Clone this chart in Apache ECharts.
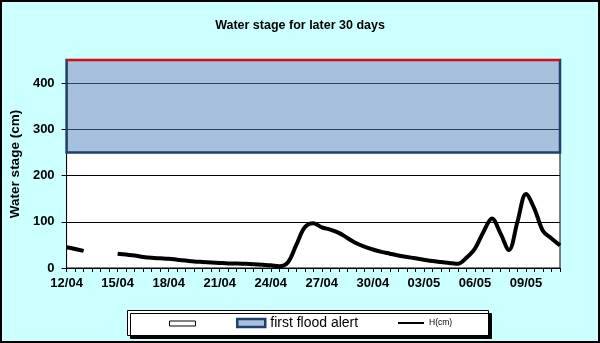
<!DOCTYPE html>
<html>
<head>
<meta charset="utf-8">
<script src="https://cdn.jsdelivr.net/npm/echarts@6/dist/echarts.min.js"></script>
<style>
html,body{margin:0;padding:0;background:#CCFFFF;}
#chart{width:600px;height:343px;}
</style>
</head>
<body>
<div id="chart"></div>
<script>
// Categories: half-day steps, 12/04 00h .. 11/05 00h
var categories = [
 '12/04 00h','12/04 12h','13/04 00h','13/04 12h','14/04 00h','14/04 12h',
 '15/04 00h','15/04 12h','16/04 00h','16/04 12h','17/04 00h','17/04 12h',
 '18/04 00h','18/04 12h','19/04 00h','19/04 12h','20/04 00h','20/04 12h',
 '21/04 00h','21/04 12h','22/04 00h','22/04 12h','23/04 00h','23/04 12h',
 '24/04 00h','24/04 12h','25/04 00h','25/04 12h','26/04 00h','26/04 12h',
 '27/04 00h','27/04 12h','28/04 00h','28/04 12h','29/04 00h','29/04 12h',
 '30/04 00h','30/04 12h','01/05 00h','01/05 12h','02/05 00h','02/05 12h',
 '03/05 00h','03/05 12h','04/05 00h','04/05 12h','05/05 00h','05/05 12h',
 '06/05 00h','06/05 12h','07/05 00h','07/05 12h','08/05 00h','08/05 12h',
 '09/05 00h','09/05 12h','10/05 00h','10/05 12h','11/05 00h'
];
// Water stage H (cm)
var waterStage = [
 45, 41, 37, null, null, null,
 31, 29, 27, 24, 22, 21,
 20, 18, 16, 14, 13, 12,
 11, 10, 10, 9, 8, 7,
 6, 4, 12, 50, 88, 97,
 88, 83, 76, 65, 54, 46,
 40, 35, 31, 27, 24, 21,
 18, 15, 13, 11, 9, 22,
 42, 78, 107, 75, 39, 100,
 160, 128, 80, 64, 49
];
// First flood alert band (cm)
var alertLow = 250;
var alertHigh = 450;
var yTicks = [0, 100, 200, 300, 400];
var seriesNames = [' ', 'first flood alert', 'H(cm)'];

var FONT = 'Liberation Sans, Arial, sans-serif';
var chart = echarts.init(document.getElementById('chart'), null, {renderer: 'canvas'});
chart.setOption({
  backgroundColor: '#CCFFFF',
  animation: false,
  title: {
    text: 'Water stage for later 30 days',
    left: 'center', top: 14,
    textStyle: {fontFamily: FONT, fontSize: 12.5, fontWeight: 'bold', color: '#000'}
  },
  grid: {
    left: 65, right: 40, top: 60, bottom: 75,
    show: true, backgroundColor: '#fff', borderColor: '#000', borderWidth: 1
  },
  xAxis: {
    type: 'category',
    data: categories,
    boundaryGap: false,
    axisLine: {lineStyle: {color: '#000', width: 1}},
    axisTick: {show: true, interval: 0, length: 4, lineStyle: {color: '#000'}},
    axisLabel: {
      interval: 5, margin: 9, color: '#000',
      fontFamily: FONT, fontSize: 13, fontWeight: 'bold',
      formatter: function (v) { return v.slice(0, 5); }
    },
    splitLine: {show: false}
  },
  yAxis: {
    type: 'value',
    min: 0, max: alertHigh, interval: 100,
    name: 'Water stage (cm)',
    nameLocation: 'middle', nameGap: 42,
    nameTextStyle: {fontFamily: FONT, fontSize: 13.5, fontWeight: 'bold', color: '#000'},
    axisLine: {show: true, lineStyle: {color: '#000', width: 1}},
    axisTick: {show: true, length: 5, lineStyle: {color: '#000'}, customValues: yTicks},
    axisLabel: {
      margin: 12, color: '#000', fontFamily: FONT, fontSize: 13, fontWeight: 'bold',
      customValues: yTicks
    },
    splitLine: {show: true, lineStyle: {color: '#000', width: 1}}
  },
  legend: [
    {
      data: [seriesNames[0]], left: 169, top: 320.5, padding: 0,
      icon: 'rect', itemWidth: 26, itemHeight: 5,
      itemStyle: {color: '#fff', borderColor: '#000', borderWidth: 1},
      textStyle: {fontSize: 4}, selectedMode: false
    },
    {
      data: [seriesNames[1]], left: 236, top: 315, padding: 0,
      icon: 'rect', itemWidth: 28, itemHeight: 8,
      itemStyle: {color: '#A7C0DE', borderColor: '#1F3F6F', borderWidth: 2.5},
      textStyle: {fontFamily: FONT, fontSize: 14, color: '#000', lineHeight: 16},
      selectedMode: false
    },
    {
      data: [seriesNames[2]], left: 398, top: 318, padding: 0,
      icon: 'rect', itemWidth: 26, itemHeight: 2,
      itemStyle: {color: '#000', borderWidth: 0},
      textStyle: {fontFamily: FONT, fontSize: 8.5, color: '#000', lineHeight: 10},
      selectedMode: false
    }
  ],
  graphic: [
    {
      type: 'rect', z: 0, silent: true,
      shape: {x: 127.5, y: 310.5, width: 361, height: 25},
      style: {fill: '#fff', stroke: '#000', lineWidth: 1,
              shadowColor: '#000', shadowOffsetX: 3, shadowOffsetY: 3, shadowBlur: 0}
    },
    {
      type: 'rect', z: 100, silent: true,
      shape: {x: 1, y: 1, width: 598, height: 341},
      style: {fill: 'none', stroke: '#000', lineWidth: 2}
    }
  ],
  series: [
    {
      name: seriesNames[0], type: 'line', data: [],
      itemStyle: {color: '#fff', borderColor: '#000'}
    },
    {
      name: seriesNames[1], type: 'line', data: [],
      itemStyle: {color: '#A7C0DE'},
      markArea: {
        silent: true,
        itemStyle: {color: 'rgba(79,129,189,0.5)', borderColor: '#1F3F6F', borderWidth: 2.5},
        data: [[{yAxis: alertLow}, {yAxis: alertHigh}]]
      },
      markLine: {
        silent: true, symbol: 'none', label: {show: false},
        lineStyle: {color: '#FF0000', width: 2, type: 'solid'},
        data: [{yAxis: alertHigh}]
      }
    },
    {
      name: seriesNames[2], type: 'line', data: waterStage,
      smooth: 0.35, symbol: 'none', connectNulls: false,
      itemStyle: {color: '#000'},
      lineStyle: {color: '#000', width: 4},
      z: 5
    }
  ]
});
</script>
</body>
</html>
